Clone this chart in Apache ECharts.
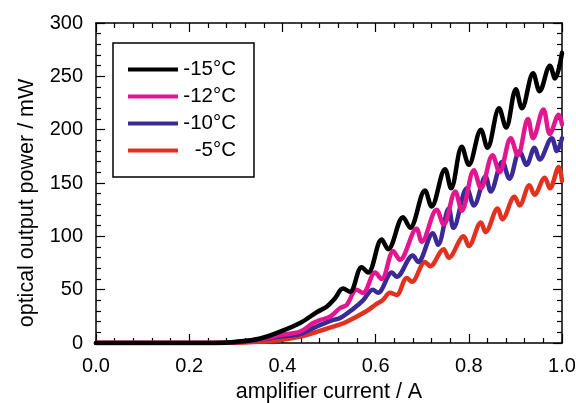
<!DOCTYPE html>
<html>
<head>
<meta charset="utf-8">
<script src="https://cdn.jsdelivr.net/npm/echarts@6/dist/echarts.min.js"></script>
<style>
html,body{margin:0;padding:0;background:#fff;}
#chart{width:576px;height:403px;}
</style>
</head>
<body>
<div id="chart"></div>
<script>
// -15°C
var blackX = [0, 0.25, 0.30, 0.35, 0.395, 0.438, 0.474, 0.495, 0.513, 0.53, 0.545, 0.57, 0.584, 0.613, 0.627, 0.659, 0.674, 0.706, 0.72, 0.749, 0.762, 0.785, 0.80, 0.826, 0.84, 0.865, 0.88, 0.901, 0.914, 0.938, 0.952, 0.974, 0.985, 1.0];
var blackY = [0, 0, 1, 4, 10.6, 18.7, 29, 34, 42, 51, 48, 71, 66, 97, 88, 118, 108, 143, 128, 163, 145, 184, 167, 200, 183, 220, 202, 238, 220, 253, 236, 260, 248, 272];
// -12°C
var pinkX = [0, 0.25, 0.30, 0.35, 0.395, 0.438, 0.466, 0.481, 0.502, 0.524, 0.538, 0.559, 0.573, 0.599, 0.613, 0.638, 0.652, 0.688, 0.699, 0.731, 0.746, 0.771, 0.785, 0.811, 0.826, 0.851, 0.866, 0.89, 0.905, 0.927, 0.938, 0.96, 0.974, 0.993, 1.0];
var pinkY = [0, 0, 1, 3, 7.5, 10.6, 18.7, 21.6, 24.6, 32.8, 35.6, 50, 47, 66, 60, 86, 78, 107, 95, 125, 111, 142, 124, 162, 145, 176, 160, 192, 176, 210, 192, 219, 196, 214, 205];
// -10°C
var blueX = [0, 0.26, 0.30, 0.35, 0.395, 0.438, 0.466, 0.509, 0.524, 0.552, 0.573, 0.594, 0.605, 0.635, 0.645, 0.68, 0.691, 0.723, 0.734, 0.757, 0.767, 0.796, 0.811, 0.836, 0.847, 0.872, 0.887, 0.909, 0.924, 0.941, 0.952, 0.978, 0.989, 1.0];
var blueY = [0, 0, 1, 3, 6, 8.4, 14, 21.6, 23.4, 32, 40, 50, 47, 66, 62, 82, 76, 103, 92, 126, 108, 145, 129, 156, 142, 170, 154, 180, 167, 183, 172, 192, 180, 192];
// -5°C
var redX = [0, 0.28, 0.32, 0.36, 0.395, 0.438, 0.466, 0.509, 0.538, 0.581, 0.60, 0.615, 0.631, 0.645, 0.667, 0.678, 0.706, 0.717, 0.746, 0.757, 0.789, 0.80, 0.826, 0.836, 0.862, 0.872, 0.898, 0.909, 0.93, 0.941, 0.963, 0.974, 0.993, 1.0];
var redY = [0, 0, 0.5, 1.5, 2.8, 6, 9.4, 15.3, 20, 30, 36, 40, 47, 45, 61, 57.5, 76, 72, 88, 80, 100, 91, 113, 104, 126, 116, 137, 129, 148, 139, 155, 145, 165, 152];

var seriesNames = ['-15°C', '-12°C', '-10°C', '-5°C'];
var seriesColors = ['#000000', '#e3158f', '#3a2a98', '#e2311f'];

function pairs(xs, ys) { return xs.map(function (x, i) { return [x, ys[i]]; }); }
var allX = [blackX, pinkX, blueX, redX];
var allY = [blackY, pinkY, blueY, redY];

var font = 'Liberation Sans, Arial, sans-serif';
function axLine() { return {show: true, onZero: false, lineStyle: {color: '#000', width: 1.5}}; }
function axTick() { return {show: true, inside: true, length: 9, lineStyle: {color: '#000', width: 1.2}}; }
function mnTick() { return {show: true, splitNumber: 5, length: 5, lineStyle: {color: '#000', width: 1.2}}; }
function tickAxis(pos, max, interval) {
  return {
    type: 'value', min: 0, max: max, interval: interval, position: pos,
    axisLine: axLine(), axisTick: axTick(), minorTick: mnTick(),
    splitLine: {show: false}, axisLabel: {show: false}
  };
}

var chart = echarts.init(document.getElementById('chart'), null, {renderer: 'canvas'});
chart.setOption({
  animation: false,
  backgroundColor: '#fff',
  grid: {left: 96, right: 14, top: 23, bottom: 60, containLabel: false, outerBoundsMode: 'none'},
  legend: {
    orient: 'vertical',
    left: 113, top: 43,
    padding: [16, 18, 16, 15],
    borderColor: '#000', borderWidth: 1.5,
    itemWidth: 50, itemHeight: 4, itemGap: 6,
    icon: 'rect',
    data: seriesNames,
    formatter: function (n) { return '{t|' + n + '}'; },
    textStyle: {
      fontFamily: font, fontSize: 20.5, color: '#000', lineHeight: 20,
      rich: {t: {width: 53, align: 'right', fontFamily: font, fontSize: 20.5, color: '#000'}}
    }
  },
  xAxis: [{
    type: 'value', min: 0, max: 1, interval: 0.2, position: 'bottom',
    name: 'amplifier current / A', nameLocation: 'middle', nameGap: 38,
    nameTextStyle: {fontFamily: font, fontSize: 21.5, color: '#000'},
    axisLine: axLine(), axisTick: axTick(), minorTick: mnTick(),
    splitLine: {show: false},
    axisLabel: {margin: 13, fontFamily: font, fontSize: 20, color: '#000',
      formatter: function (v) { return v.toFixed(1); }}
  }, tickAxis('top', 1, 0.2)],
  yAxis: [{
    type: 'value', min: 0, max: 300, interval: 50, position: 'left',
    name: 'optical output power / mW', nameLocation: 'middle', nameGap: 58,
    nameTextStyle: {fontFamily: font, fontSize: 21.5, color: '#000', padding: [0, 40, 0, 0]},
    axisLine: axLine(), axisTick: axTick(), minorTick: mnTick(),
    splitLine: {show: false},
    axisLabel: {margin: 13, fontFamily: font, fontSize: 20, color: '#000'}
  }, tickAxis('right', 300, 50)],
  series: seriesNames.map(function (n, i) {
    return {
      name: n, type: 'line', xAxisIndex: 0, yAxisIndex: 0,
      data: pairs(allX[i], allY[i]),
      showSymbol: false, smooth: 0.35,
      z: 10 - i,
      itemStyle: {color: seriesColors[i]},
      lineStyle: {color: seriesColors[i], width: 4.5, cap: 'round', join: 'round'}
    };
  }).reverse()
});
</script>
</body>
</html>
